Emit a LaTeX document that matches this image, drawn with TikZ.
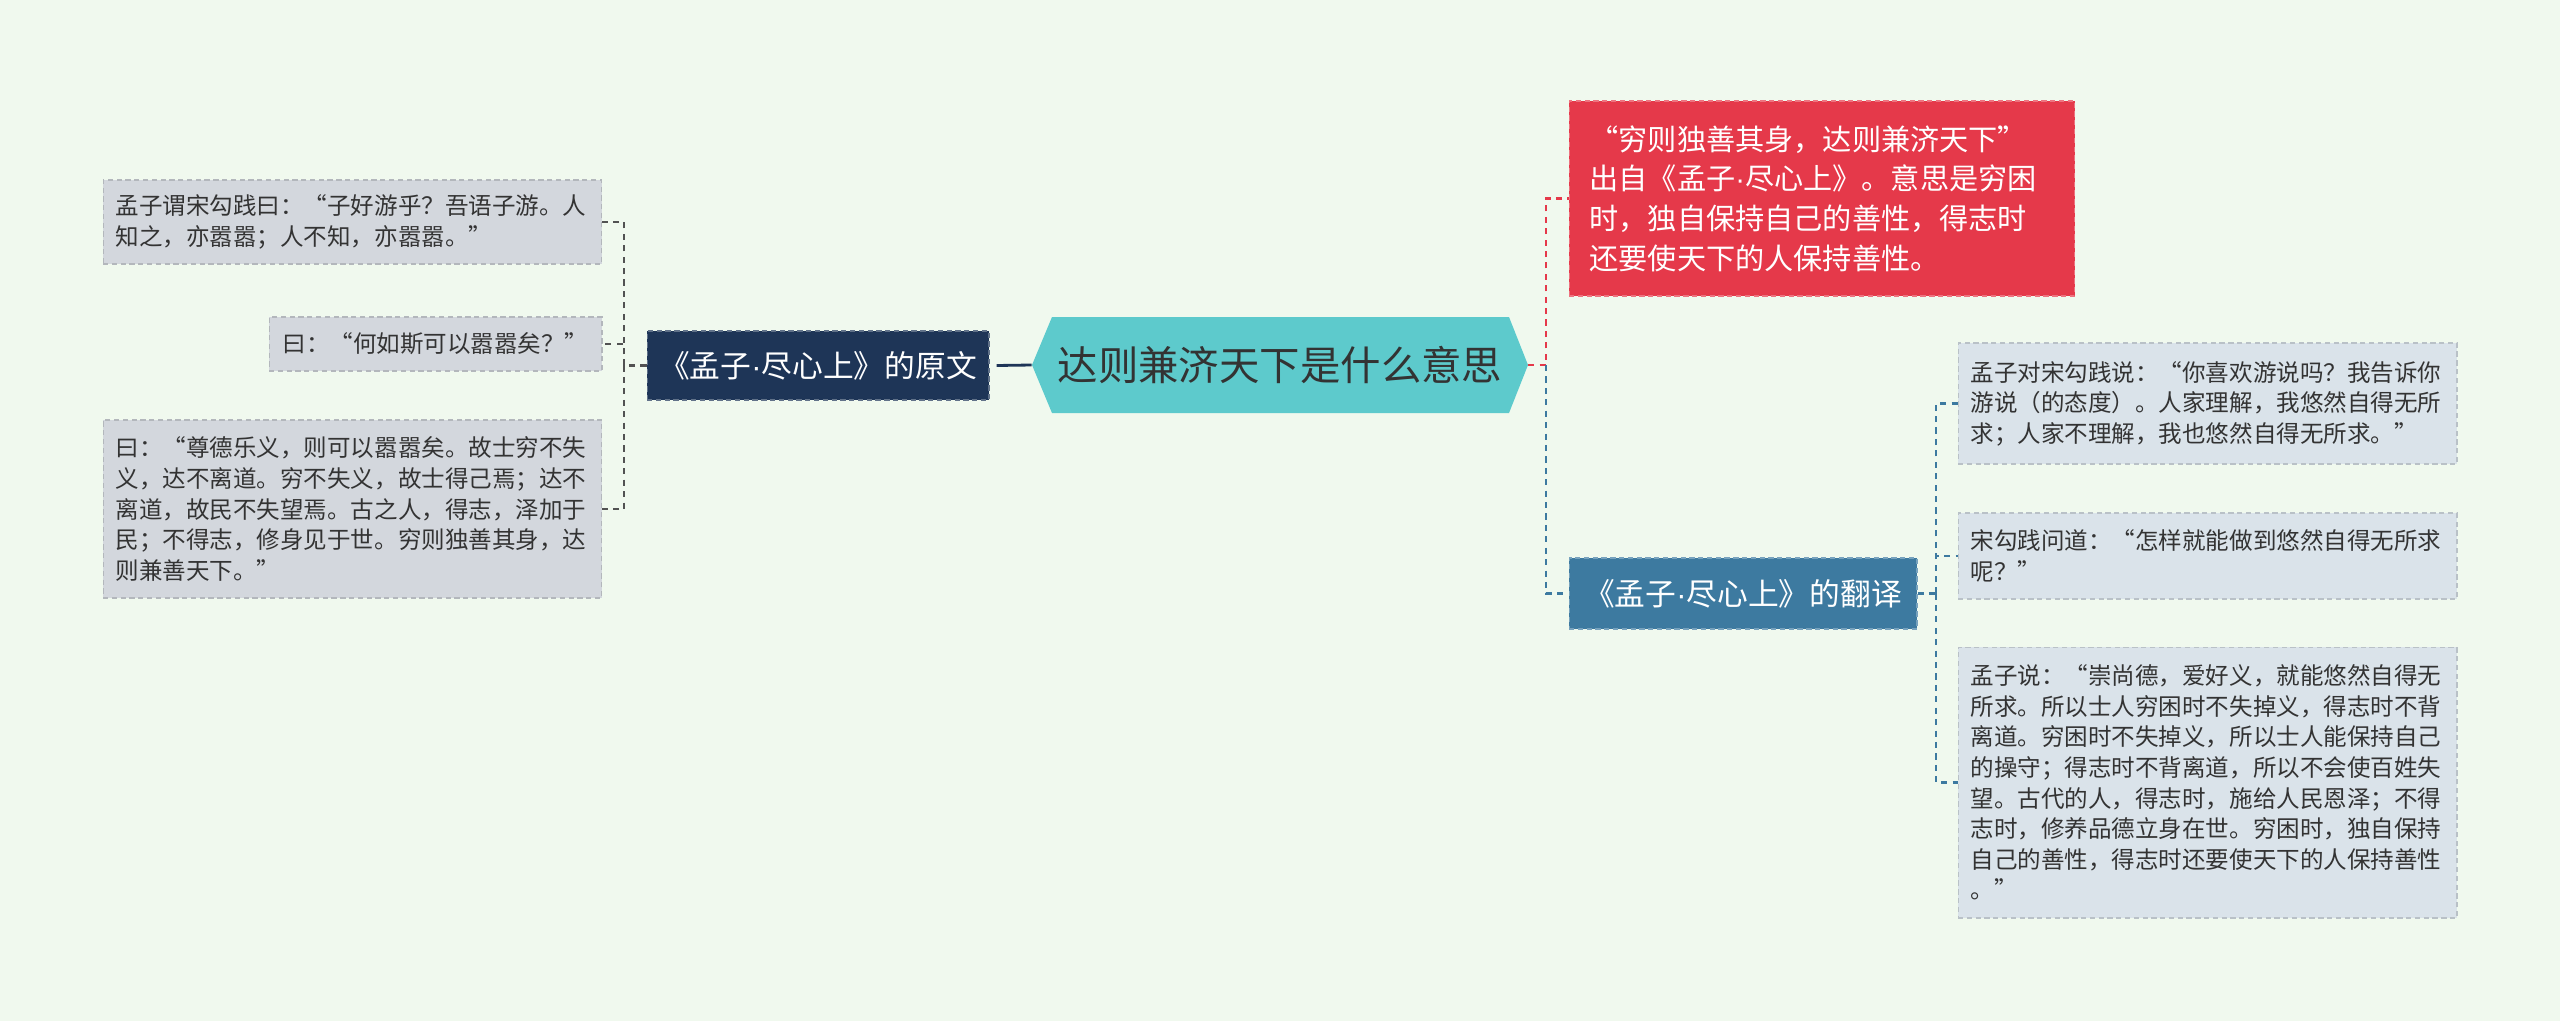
\documentclass[tikz,border=0pt]{standalone}
\usepackage{fontspec}
\setmainfont{Noto Sans CJK SC}
\newfontfamily\latinfont{Liberation Sans}
\newcommand{\gdot}{{\latinfont ·}}
\definecolor{bgcol}{HTML}{F0F9EE}
\definecolor{leafgray}{HTML}{D3D7DD}
\definecolor{leafblue}{HTML}{DAE3EA}
\definecolor{navy}{HTML}{1E3557}
\definecolor{rootcol}{HTML}{5DCACC}
\definecolor{redcol}{HTML}{E5394A}
\definecolor{bluecol}{HTML}{3D7AA0}
\definecolor{txtcol}{HTML}{333333}
\begin{document}
\begin{tikzpicture}[x=0.02cm, y=-0.02cm,
    leaf/.style={draw=#1!85!black, fill=#1, dash pattern=on 3pt off 2pt, line width=0.6pt,
        text=txtcol, align=left, inner xsep=0.25cm, inner ysep=0pt,
        font=\fontsize{13.4}{17.4}\selectfont},
    branch/.style={draw=#1!70!white, fill=#1, dash pattern=on 3pt off 2pt, line width=0.6pt,
        text=white, inner sep=0pt, font=\fontsize{17.5}{21}\selectfont},
    link/.style={dash pattern=on 3.5pt off 3pt, line width=1.2pt}]

    % 背景
    \fill[bgcol] (0,0) rectangle (2560,1021);
    \useasboundingbox (0,0) rectangle (2560,1021);

    % 中心主题
    \fill[rootcol] (1032,365) -- (1052,317) -- (1509,317) -- (1528,365) -- (1509,413) -- (1052,413) -- cycle;
    \node[minimum width=9.92cm, minimum height=1.92cm, inner sep=0pt, text=txtcol,
        font=\fontsize{23}{27}\selectfont] (root) at (1280,365) {达则兼济天下是什么意思};

    % 左侧：原文
    \node[branch=navy, minimum width=6.84cm, minimum height=1.38cm] (yuanwen) at (818,365.5) {《孟子\gdot 尽心上》的原文};
    \node[leaf=leafgray, minimum width=9.98cm, minimum height=1.68cm, text width=9.48cm] (y1) at (352.5,222)
        {孟子谓宋勾践曰：“子好游乎？吾语子游。人\\知之，亦嚣嚣；人不知，亦嚣嚣。”};
    \node[leaf=leafgray, minimum width=6.66cm, minimum height=1.08cm] (y2) at (435.5,344)
        {曰：“何如斯可以嚣嚣矣？”};
    \node[leaf=leafgray, minimum width=9.98cm, minimum height=3.56cm, text width=9.48cm] (y3) at (352.5,509)
        {曰：“尊德乐义，则可以嚣嚣矣。故士穷不失\\义，达不离道。穷不失义，故士得己焉；达不\\离道，故民不失望焉。古之人，得志，泽加于\\民；不得志，修身见于世。穷则独善其身，达\\则兼善天下。”};

    \draw[navy, line width=1.6pt] (root.west) -- ([xshift=4pt]yuanwen.east);
    \draw[link, txtcol!85] (yuanwen.west) -- (624,365.5) coordinate (lj);
    \foreach \n in {y1,y2,y3} {
        \draw[link, txtcol!85] (lj) |- (\n.east);
    }

    % 右侧：出处与翻译
    \node[branch=redcol, minimum width=10.12cm, minimum height=3.9cm, text width=9.3cm, align=left,
        font=\fontsize{16.6}{22.6}\selectfont] (chuchu) at (1822,198.5)
        {“穷则独善其身，达则兼济天下”\\出自《孟子\gdot 尽心上》。意思是穷困\\时，独自保持自己的善性，得志时\\还要使天下的人保持善性。};
    \node[branch=bluecol, minimum width=6.96cm, minimum height=1.42cm] (fanyi) at (1743,593.5) {《孟子\gdot 尽心上》的翻译};

    \draw[link, redcol] (root.east) -- (1546,365) coordinate (rj) |- (chuchu.west);
    \draw[link, bluecol] (rj) |- (fanyi.west);

    \node[leaf=leafblue, minimum width=9.98cm, minimum height=2.42cm, text width=9.48cm] (f1) at (2207.5,403.5)
        {孟子对宋勾践说：“你喜欢游说吗？我告诉你\\游说（的态度）。人家理解，我悠然自得无所\\求；人家不理解，我也悠然自得无所求。”};
    \node[leaf=leafblue, minimum width=9.98cm, minimum height=1.72cm, text width=9.48cm] (f2) at (2207.5,556)
        {宋勾践问道：“怎样就能做到悠然自得无所求\\呢？”};
    \node[leaf=leafblue, minimum width=9.98cm, minimum height=5.42cm, text width=9.48cm] (f3) at (2207.5,782.5)
        {孟子说：“崇尚德，爱好义，就能悠然自得无\\所求。所以士人穷困时不失掉义，得志时不背\\离道。穷困时不失掉义，所以士人能保持自己\\的操守；得志时不背离道，所以不会使百姓失\\望。古代的人，得志时，施给人民恩泽；不得\\志时，修养品德立身在世。穷困时，独自保持\\自己的善性，得志时还要使天下的人保持善性\\。”};

    \draw[link, bluecol] (fanyi.east) -- (1936,593.5) coordinate (fj);
    \foreach \n in {f1,f2,f3} {
        \draw[link, bluecol] (fj) |- (\n.west);
    }
\end{tikzpicture}
\end{document}
